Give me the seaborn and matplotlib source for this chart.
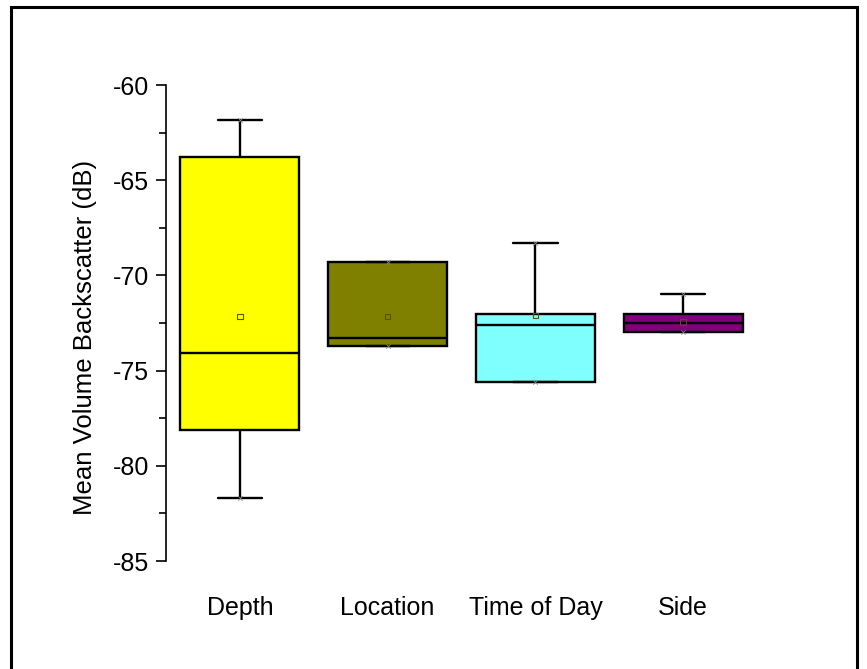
"""Box chart of mean volume backscatter by factor."""

import numpy as np
import pandas as pd
import matplotlib.pyplot as plt
import seaborn as sns
from matplotlib.patches import Rectangle
from matplotlib.ticker import MultipleLocator

# values
categories = ["Depth", "Location", "Time of Day", "Side"]
whisker_low = [-81.7, -73.7, -75.6, -72.95]
q1 = [-78.1, -73.7, -75.6, -72.95]
median = [-74.1, -73.3, -72.6, -72.5]
q3 = [-63.8, -69.3, -72.0, -72.05]
whisker_high = [-61.85, -69.3, -68.3, -71.0]
means = [-72.15, -72.15, -72.1, -72.45]
box_colors = ["#FFFF00", "#808000", "#80FFFF", "#800080"]

sns.set_style("ticks")
plt.rcParams["font.family"] = ["Liberation Sans", "DejaVu Sans"]
plt.rcParams["axes.unicode_minus"] = False
plt.rcParams["text.color"] = "black"
plt.rcParams["axes.labelcolor"] = "black"
plt.rcParams["xtick.color"] = "black"
plt.rcParams["ytick.color"] = "black"

# five-number summary per category -> percentile(0,25,50,75,100) reproduces it
rows = []
for i, cat in enumerate(categories):
    for v in (whisker_low[i], q1[i], median[i], q3[i], whisker_high[i]):
        rows.append({"factor": cat, "value": v})
df = pd.DataFrame(rows)

fig = plt.figure(figsize=(8.67, 6.69), dpi=100)
ax = fig.add_axes([0.1915, 0.1614, 0.6817, 0.7115])

line_kw = dict(color="black", linewidth=1.7)
sns.boxplot(
    data=df, x="factor", y="value", hue="factor", palette=box_colors,
    saturation=1, legend=False, whis=(0, 100), width=0.805, showfliers=False,
    linecolor="black", linewidth=1.7, capwidths=0.3,
    medianprops=line_kw, whiskerprops=line_kw, capprops=line_kw, ax=ax,
)

# mean markers
sns.scatterplot(x=categories, y=means, marker="s", s=16, facecolor="none",
                edgecolor="#555500", linewidth=0.8, ax=ax, zorder=5)
# min / max marks
ext = pd.DataFrame({"factor": categories * 2,
                    "value": whisker_low + whisker_high})
sns.scatterplot(data=ext, x="factor", y="value", marker="x", s=10,
                color="#888888", linewidth=0.6, ax=ax, zorder=5)

ax.set_ylim(-85, -60)
ax.set_xlim(-0.5, 3.5)
ax.yaxis.set_major_locator(MultipleLocator(5))
ax.yaxis.set_minor_locator(MultipleLocator(2.5))
ax.tick_params(axis="y", which="major", direction="out", length=7.5, width=1.2,
               labelsize=18, pad=4.5)
ax.tick_params(axis="y", which="minor", direction="out", length=5, width=1.2)
ax.tick_params(axis="x", length=0, labelsize=18, pad=25)
ax.set_xlabel("")
ax.set_ylabel("Mean Volume Backscatter (dB)", fontsize=18.5)
ax.yaxis.set_label_coords(-0.117, 0.47)

sns.despine(ax=ax, bottom=True)
ax.spines["left"].set_linewidth(1.2)
ax.spines["left"].set_color("black")

# outer frame like the original export
fig.patches.append(Rectangle((11 / 867, -0.05), 846 / 867, 1.05 - 7 / 669,
                             transform=fig.transFigure, fill=False,
                             edgecolor="black", linewidth=2.2))

fig.savefig("out.png", dpi=100)
